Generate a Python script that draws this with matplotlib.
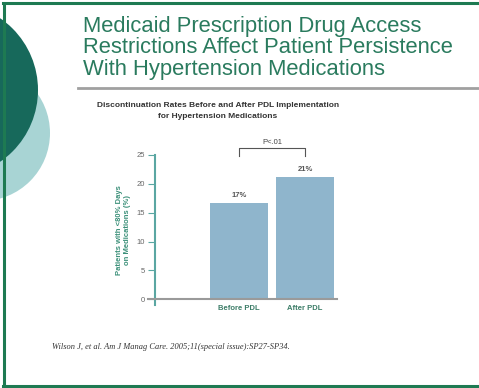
import matplotlib
matplotlib.use("Agg")
import matplotlib.pyplot as plt
from matplotlib.patches import Circle

# data
categories = ["Before PDL", "After PDL"]
rates = [16.7, 21.2]
bar_labels = ["17%", "21%"]
y_ticks = [0, 5, 10, 15, 20, 25]

title = "Medicaid Prescription Drug Access\nRestrictions Affect Patient Persistence\nWith Hypertension Medications"
subtitle = "Discontinuation Rates Before and After PDL Implementation\nfor Hypertension Medications"
ylabel = "Patients with <80% Days\non Medications (%)"
citation = "Wilson J, et al. Am J Manag Care. 2005;11(special issue):SP27-SP34."

W, H = 479, 388
plt.rcParams['font.family'] = ['Liberation Sans', 'DejaVu Sans']

fig = plt.figure(figsize=(W / 100, H / 100), dpi=100)

# background "slide" layer in pixel coordinates
bg = fig.add_axes([0, 0, 1, 1], zorder=0)
bg.set_xlim(0, W)
bg.set_ylim(H, 0)
bg.axis('off')

bg.add_patch(Circle((-18, 133), 68, color='#a8d4d4', lw=0))
bg.add_patch(Circle((-49, 90), 87, color='#17695b', lw=0))

# border
bg.plot([4, 4], [3, 386], color='#1e7a52', lw=2.2, solid_capstyle='butt')
bg.plot([3, W], [3, 3], color='#1e7a52', lw=2.2)
bg.plot([3, W], [386, 386], color='#1e7a52', lw=2.2)

# rule under title
bg.plot([78, W], [88, 88], color='#a0a0a0', lw=2)

bg.text(83, 16, title, color='#2a7b5e', fontsize=15.8, va='top', ha='left',
        linespacing=1.02)
bg.text(218, 111, subtitle, color='#333333', fontsize=6.0, fontweight='bold',
        ha='center', va='center', linespacing=1.75)
bg.text(52, 347, citation, color='#333333', fontsize=6.0, style='italic',
        family=['Liberation Serif', 'DejaVu Serif'], ha='left', va='center')

# chart axes
px_per_x = 66.0
x_left, x_right = 148, 337
y_top, y_bot = 155, 305
ax = fig.add_axes([x_left / W, 1 - y_bot / H, (x_right - x_left) / W, (y_bot - y_top) / H],
                  zorder=1)
ax.patch.set_alpha(0)
x0 = (x_left - 239) / px_per_x
x1 = x0 + (x_right - x_left) / px_per_x
ax.set_xlim(x0, x1)
ax.set_ylim(-1, 25)

xs = list(range(len(categories)))
bars = ax.bar(xs, rates, width=0.88, color='#8fb5cc', edgecolor='none', zorder=2)
for b, lab in zip(bars, bar_labels):
    ax.text(b.get_x() + b.get_width() / 2, b.get_height() + 0.6, lab,
            ha='center', va='bottom', fontsize=5.5, fontweight='bold', color='#555555')

# significance bracket
by, bt = 26.2, 24.8
ax.plot([0, 0, 1, 1], [bt, by, by, bt], color='#555555', lw=0.8, clip_on=False)
ax.text(0.5, by + 0.4, "P<.01", ha='center', va='bottom', fontsize=5.5,
        color='#444444', clip_on=False)

for s in ['top', 'right']:
    ax.spines[s].set_visible(False)
ax.spines['bottom'].set_position(('data', 0))
ax.spines['bottom'].set_color('#9a9a9a')
ax.spines['bottom'].set_linewidth(1.5)
ax.spines['left'].set_position(('data', (155 - 239) / px_per_x))
ax.spines['left'].set_color('#5aa6a2')
ax.spines['left'].set_linewidth(1.5)
ax.spines['left'].set_bounds(-1, 25)

ax.set_yticks(y_ticks)
ax.set_yticklabels([str(t) for t in y_ticks], fontsize=5.5, color='#666666')
ax.tick_params(axis='y', length=5, width=0.8, color='#5aa6a2', pad=2)
ax.set_xticks(xs)
ax.set_xticklabels(categories, fontsize=5.5, fontweight='bold', color='#3d7d68')
ax.tick_params(axis='x', length=0, pad=4)

ax.set_ylabel(ylabel, fontsize=5.5, color='#3a8f78', fontweight='bold',
              linespacing=1.2, labelpad=4)

fig.savefig("out.png", dpi=100)
